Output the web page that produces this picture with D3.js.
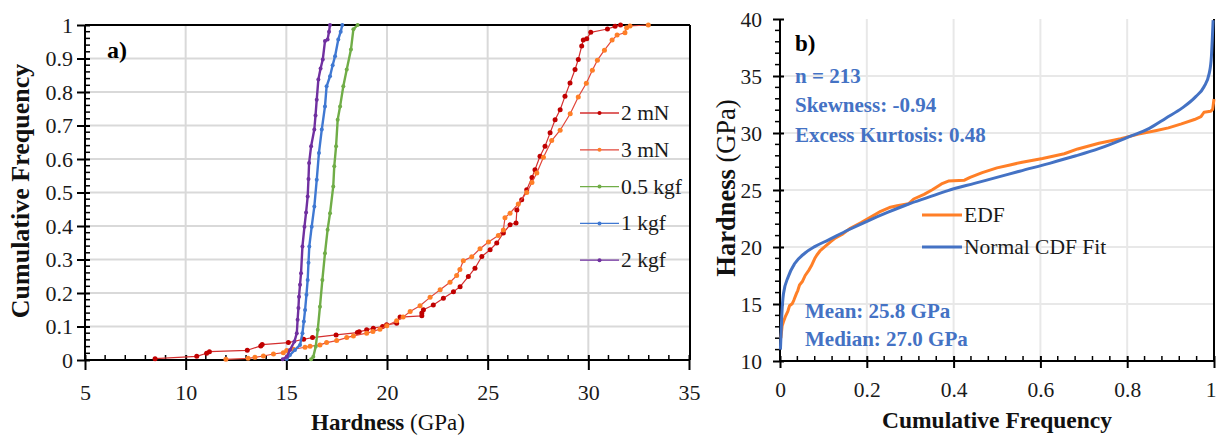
<!DOCTYPE html>
<html>
<head>
<meta charset="utf-8">
<script src="https://cdn.jsdelivr.net/npm/d3@7"></script>
<style>
  html, body { margin: 0; padding: 0; background: #fff; }
  svg { display: block; font-family: "Liberation Serif", serif; }
  svg text { font-family: "Liberation Serif", serif; }
</style>
</head>
<body>
<svg id="fig" width="1216" height="435"></svg>
<script>
// ---------- data: [hardness (GPa), cumulative frequency] ----------
const series2mN = [
  [8.48, 0.004], [10.55, 0.011], [11.04, 0.02], [11.18, 0.025], [13.06, 0.029],
  [13.73, 0.042], [13.8, 0.046], [15.1, 0.052], [15.86, 0.062], [16.3, 0.067],
  [17.47, 0.075], [18.53, 0.082], [18.62, 0.084], [18.99, 0.09], [19.32, 0.095],
  [19.78, 0.1], [19.98, 0.105], [20.48, 0.11], [20.65, 0.128], [21.73, 0.132],
  [21.73, 0.14], [21.81, 0.15], [22.3, 0.164], [22.8, 0.184], [23.3, 0.204],
  [23.63, 0.219], [24.04, 0.249], [24.37, 0.274], [24.71, 0.309], [25.12, 0.329],
  [25.45, 0.349], [25.78, 0.379], [26.11, 0.404], [26.41, 0.409], [26.45, 0.448],
  [26.69, 0.478], [26.94, 0.508], [27.2, 0.545], [27.35, 0.568], [27.6, 0.608],
  [27.85, 0.638], [28.1, 0.678], [28.35, 0.717], [28.6, 0.747], [28.84, 0.787],
  [29.09, 0.827], [29.34, 0.867], [29.5, 0.897], [29.67, 0.937], [29.75, 0.955],
  [29.92, 0.959], [30.12, 0.978], [30.95, 0.988], [31.33, 0.996], [31.6, 1.0]
];
const series3mN = [
  [12.0, 0.002], [13.1, 0.005], [13.44, 0.008], [13.86, 0.012], [14.36, 0.018],
  [14.85, 0.022], [15.02, 0.028], [15.35, 0.032], [15.93, 0.038], [16.18, 0.041],
  [16.67, 0.045], [17.0, 0.052], [17.5, 0.058], [18.0, 0.067], [18.33, 0.072],
  [18.99, 0.08], [19.3, 0.085], [19.65, 0.092], [19.99, 0.102], [20.48, 0.117],
  [20.8, 0.128], [21.15, 0.145], [21.64, 0.162], [22.14, 0.187], [22.64, 0.21],
  [23.13, 0.232], [23.46, 0.252], [23.62, 0.27], [23.79, 0.296], [24.21, 0.308],
  [24.62, 0.332], [25.04, 0.352], [25.53, 0.372], [25.78, 0.388], [25.86, 0.425],
  [26.11, 0.438], [26.52, 0.466], [26.94, 0.5], [27.2, 0.53], [27.44, 0.558],
  [27.77, 0.605], [28.18, 0.655], [28.6, 0.686], [29.1, 0.735], [29.5, 0.785],
  [29.9, 0.826], [30.2, 0.865], [30.45, 0.895], [30.8, 0.925], [31.18, 0.955],
  [31.43, 0.97], [31.82, 0.977], [31.9, 0.992], [32.07, 0.997], [32.98, 1.0]
];
const series05kgf = [
  [16.23, 0.002], [16.34, 0.01], [16.46, 0.04], [16.56, 0.09], [16.67, 0.159],
  [16.79, 0.239], [16.92, 0.319], [17.05, 0.389], [17.17, 0.438], [17.33, 0.518],
  [17.38, 0.578], [17.47, 0.638], [17.55, 0.717], [17.67, 0.757], [17.83, 0.817],
  [18.0, 0.867], [18.21, 0.927], [18.33, 0.987], [18.54, 1.0]
];
const series1kgf = [
  [15.02, 0.003], [15.18, 0.015], [15.43, 0.03], [15.68, 0.045], [15.8, 0.08],
  [15.87, 0.115], [15.93, 0.149], [16.0, 0.195], [16.06, 0.239], [16.1, 0.29],
  [16.14, 0.339], [16.26, 0.398], [16.39, 0.458], [16.51, 0.538], [16.62, 0.618],
  [16.76, 0.688], [16.92, 0.757], [17.0, 0.817], [17.17, 0.847], [17.3, 0.88],
  [17.42, 0.907], [17.58, 0.957], [17.7, 0.98], [17.78, 1.0]
];
const series2kgf = [
  [14.82, 0.002], [15.02, 0.01], [15.18, 0.03], [15.4, 0.055], [15.52, 0.08],
  [15.56, 0.12], [15.6, 0.155], [15.63, 0.189], [15.68, 0.225], [15.73, 0.259],
  [15.8, 0.339], [15.9, 0.398], [15.98, 0.44], [16.06, 0.488], [16.1, 0.54],
  [16.13, 0.588], [16.23, 0.638], [16.39, 0.688], [16.45, 0.73], [16.51, 0.777],
  [16.59, 0.837], [16.7, 0.87], [16.81, 0.897], [16.92, 0.952], [17.05, 0.957],
  [17.12, 0.98], [17.17, 1.0]
];
// normal CDF fit of the 3 mN set: [cumulative frequency, hardness (GPa)]
const normalFit = [
  [0.001, 11.0], [0.004, 13.9], [0.008, 15.9], [0.019, 17.4], [0.034, 18.55],
  [0.057, 19.45], [0.08, 20.03], [0.111, 20.61], [0.157, 21.49], [0.203, 22.3],
  [0.249, 23.05], [0.295, 23.75], [0.341, 24.35], [0.387, 24.95], [0.448, 25.58],
  [0.506, 26.17], [0.552, 26.65], [0.621, 27.34], [0.682, 28.0], [0.736, 28.65],
  [0.805, 29.68], [0.851, 30.41], [0.889, 31.3], [0.927, 32.2], [0.958, 33.19],
  [0.977, 34.06], [0.989, 35.23], [0.994, 36.7], [0.996, 38.16], [0.998, 39.9]
];

const seriesNames = ["2 mN", "3 mN", "0.5 kgf", "1 kgf", "2 kgf"];
const hardnessTicks = [5, 10, 15, 20, 25, 30, 35];
const freqTicks = [0, 0.1, 0.2, 0.3, 0.4, 0.5, 0.6, 0.7, 0.8, 0.9, 1];
const fitFreqTicks = [0, 0.2, 0.4, 0.6, 0.8, 1];
const fitHardTicks = [10, 15, 20, 25, 30, 35, 40];
const statLines = ["n = 213", "Skewness: -0.94", "Excess Kurtosis: 0.48"];
const centreLines = ["Mean: 25.8 GPa", "Median: 27.0 GPa"];
const fitLegend = ["EDF", "Normal CDF Fit"];

// ---------- setup ----------
const SERIF = "Liberation Serif";
const svg = d3.select("#fig");
const fmt = d3.format("~g");

// every label goes through here so the serif face is applied as a style
function label(parent, x, y, str, size, opts = {}) {
  const t = parent.append("text").attr("x", x).attr("y", y)
    .style("font-family", SERIF).style("font-size", size + "px")
    .style("font-weight", opts.bold ? "bold" : "normal")
    .attr("fill", opts.fill || "#1a1a1a");
  if (opts.anchor) t.attr("text-anchor", opts.anchor);
  if (str !== null) t.text(str);
  return t;
}

const styles = [
  { data: series2mN,  line: "#d42f2f", mark: "#c00000", r: 2.5, lw: 1.2 },
  { data: series3mN,  line: "#e2463a", mark: "#ff7f27", r: 2.5, lw: 1.2 },
  { data: series05kgf, line: "#70ad47", mark: "#70ad47", r: 2.0, lw: 2.4 },
  { data: series1kgf, line: "#3f78d2", mark: "#3f78d2", r: 2.0, lw: 2.4 },
  { data: series2kgf, line: "#7030a0", mark: "#7030a0", r: 2.0, lw: 2.4 }
];

// ================= panel a =================
const xA = d3.scaleLinear().domain([5, 35]).range([85, 689]);
const yA = d3.scaleLinear().domain([0, 1]).range([360, 25]);
const pa = svg.append("g");

// grid
pa.append("g").selectAll("line").data(hardnessTicks.slice(1, -1)).join("line")
  .attr("x1", d => xA(d)).attr("x2", d => xA(d)).attr("y1", yA(0)).attr("y2", yA(1))
  .attr("stroke", "#d9d9d9").attr("stroke-width", 2);
pa.append("g").selectAll("line").data(freqTicks.slice(1, -1)).join("line")
  .attr("x1", xA(5)).attr("x2", xA(35)).attr("y1", d => yA(d)).attr("y2", d => yA(d))
  .attr("stroke", "#d9d9d9").attr("stroke-width", 2);

// minor ticks
pa.append("g").selectAll("line").data(d3.range(6, 35, 1).filter(v => v % 5)).join("line")
  .attr("x1", d => xA(d)).attr("x2", d => xA(d)).attr("y1", yA(0)).attr("y2", yA(0) - 5)
  .attr("stroke", "#000").attr("stroke-width", 1.5);
pa.append("g").selectAll("line").data(d3.range(1, 50).filter(i => i % 5).map(i => i * 0.02)).join("line")
  .attr("x1", xA(5)).attr("x2", xA(5) + 5).attr("y1", d => yA(d)).attr("y2", d => yA(d))
  .attr("stroke", "#000").attr("stroke-width", 1.5);

// axes
const axAx = pa.append("g").attr("transform", `translate(0,${yA(0)})`)
  .call(d3.axisBottom(xA).tickValues(hardnessTicks).tickFormat(fmt));
const axAy = pa.append("g").attr("transform", `translate(${xA(5)},0)`)
  .call(d3.axisLeft(yA).tickValues(freqTicks).tickFormat(fmt));
[axAx, axAy].forEach(g => g.select(".domain").remove());
axAx.selectAll(".tick line").attr("y1", -5).attr("y2", 10).attr("stroke", "#000").attr("stroke-width", 2);
axAy.selectAll(".tick line").attr("x1", 5).attr("x2", -8).attr("stroke", "#000").attr("stroke-width", 2);
axAx.selectAll(".tick text").attr("y", 40).attr("dy", null);
axAy.selectAll(".tick text").attr("x", -12).attr("dy", "0.33em");
[axAx, axAy].forEach(g => g.selectAll(".tick text")
  .style("font-family", SERIF).style("font-size", "22px").attr("fill", "#1a1a1a"));

// frame
const frameA = [
  [xA(5), yA(0), xA(35) + 1, yA(0)], [xA(5), yA(0), xA(5), yA(1)],
  [xA(5), yA(1), xA(35) + 1, yA(1)], [xA(35) + 1, yA(0), xA(35) + 1, yA(1)]
];
pa.append("g").selectAll("line").data(frameA).join("line")
  .attr("x1", d => d[0]).attr("y1", d => d[1]).attr("x2", d => d[2]).attr("y2", d => d[3])
  .attr("stroke", "#000").attr("stroke-width", 2);

// series
const lineA = d3.line().x(d => xA(d[0])).y(d => yA(d[1]));
styles.forEach(s => {
  const g = pa.append("g");
  g.append("path").attr("d", lineA(s.data)).attr("fill", "none")
    .attr("stroke", s.line).attr("stroke-width", s.lw).attr("stroke-linejoin", "round");
  g.selectAll("circle").data(s.data).join("circle")
    .attr("cx", d => xA(d[0])).attr("cy", d => yA(d[1])).attr("r", s.r).attr("fill", s.mark);
});

// legend
const legA = pa.append("g");
seriesNames.forEach((name, i) => {
  const y = 113 + i * 36.8;
  const s = styles[i];
  legA.append("line").attr("x1", 580).attr("x2", 619).attr("y1", y).attr("y2", y)
    .attr("stroke", s.line).attr("stroke-width", 1.3);
  legA.append("circle").attr("cx", 599.5).attr("cy", y).attr("r", 2).attr("fill", s.mark);
  label(legA, 621, y + 7, name, 21.5);
});

// labels
label(pa, 107, 58, "a)", 24, { bold: true, fill: "#000" });
const xtA = label(pa, 388, 430, null, 23, { anchor: "middle", fill: "#111" });
xtA.append("tspan").style("font-weight", "bold").text("Hardness ");
xtA.append("tspan").text("(GPa)");
label(pa, 0, 0, "Cumulative Frequency", 26, { bold: true, anchor: "middle", fill: "#111" })
  .attr("transform", "translate(29,191) rotate(-90)");

// ================= panel b =================
const xB = d3.scaleLinear().domain([0, 1]).range([780, 1214]);
const yB = d3.scaleLinear().domain([10, 40]).range([361, 19]);
const pb = svg.append("g");

pb.append("g").selectAll("line").data(fitFreqTicks.slice(1, -1)).join("line")
  .attr("x1", d => xB(d)).attr("x2", d => xB(d)).attr("y1", yB(10)).attr("y2", yB(40))
  .attr("stroke", "#e8e8e8").attr("stroke-width", 2);
pb.append("g").selectAll("line").data(fitHardTicks.slice(1, -1)).join("line")
  .attr("x1", xB(0)).attr("x2", xB(1)).attr("y1", d => yB(d)).attr("y2", d => yB(d))
  .attr("stroke", "#e8e8e8").attr("stroke-width", 2);

// minor ticks
pb.append("g").selectAll("line").data(d3.range(1, 25).filter(i => i % 5).map(i => i * 0.04)).join("line")
  .attr("x1", d => xB(d)).attr("x2", d => xB(d)).attr("y1", yB(10)).attr("y2", yB(10) - 5)
  .attr("stroke", "#000").attr("stroke-width", 1.5);
pb.append("g").selectAll("line").data(d3.range(11, 40).filter(v => v % 5)).join("line")
  .attr("x1", xB(0)).attr("x2", xB(0) - 5).attr("y1", d => yB(d)).attr("y2", d => yB(d))
  .attr("stroke", "#000").attr("stroke-width", 1.5);

const axBx = pb.append("g").attr("transform", `translate(0,${yB(10)})`)
  .call(d3.axisBottom(xB).tickValues(fitFreqTicks).tickFormat(fmt));
const axBy = pb.append("g").attr("transform", `translate(${xB(0)},0)`)
  .call(d3.axisLeft(yB).tickValues(fitHardTicks).tickFormat(fmt));
[axBx, axBy].forEach(g => g.select(".domain").remove());
axBx.selectAll(".tick line").attr("y1", -5).attr("y2", 7).attr("stroke", "#000").attr("stroke-width", 2);
axBy.selectAll(".tick line").attr("x1", 4).attr("x2", -7).attr("stroke", "#000").attr("stroke-width", 2);
axBx.selectAll(".tick text").attr("y", 36).attr("dy", null);
// the last label sits against the window edge, so keep it inside
axBx.selectAll(".tick text").filter(d => d === 1).attr("text-anchor", "end").attr("x", 2);
axBy.selectAll(".tick text").attr("x", -18).attr("dy", "0.33em");
[axBx, axBy].forEach(g => g.selectAll(".tick text")
  .style("font-family", SERIF).style("font-size", "21.5px").attr("fill", "#1a1a1a"));

const frameB = [
  [xB(0), yB(10), xB(1), yB(10)], [xB(0), yB(10), xB(0), yB(40)], [xB(1), yB(10), xB(1), yB(40)]
];
pb.append("g").selectAll("line").data(frameB).join("line")
  .attr("x1", d => d[0]).attr("y1", d => d[1]).attr("x2", d => d[2]).attr("y2", d => d[3])
  .attr("stroke", "#000").attr("stroke-width", 2);

// EDF (3 mN set with axes swapped) and normal fit
const lineEDF = d3.line().x(d => xB(d[1])).y(d => yB(d[0]));
pb.append("path").attr("d", lineEDF(series3mN)).attr("fill", "none")
  .attr("stroke", "#ff7f27").attr("stroke-width", 3).attr("stroke-linejoin", "round");
const lineFit = d3.line().x(d => xB(d[0])).y(d => yB(d[1])).curve(d3.curveMonotoneX);
pb.append("path").attr("d", lineFit(normalFit)).attr("fill", "none")
  .attr("stroke", "#4472c4").attr("stroke-width", 3);

// legend
[["#ff7f27", 215], ["#4472c4", 247]].forEach(([c, y], i) => {
  pb.append("line").attr("x1", 922).attr("x2", 962).attr("y1", y).attr("y2", y)
    .attr("stroke", c).attr("stroke-width", 3);
  label(pb, 964, y + 7, fitLegend[i], 21.5);
});

// annotations
label(pb, 795, 51, "b)", 23, { bold: true, fill: "#000" });
statLines.forEach((t, i) => label(pb, 795, [83, 112, 142][i], t, 21, { bold: true, fill: "#4472c4" }));
centreLines.forEach((t, i) => label(pb, 805, [318, 346][i], t, 21, { bold: true, fill: "#4472c4" }));

label(pb, 997, 428, "Cumulative Frequency", 23.5, { bold: true, anchor: "middle", fill: "#111" });
const ytB = label(pb, 0, 0, null, 26.5, { anchor: "middle", fill: "#111" })
  .attr("transform", "translate(735,188) rotate(-90)");
ytB.append("tspan").style("font-weight", "bold").text("Hardness ");
ytB.append("tspan").text("(GPa)");
</script>
</body>
</html>
